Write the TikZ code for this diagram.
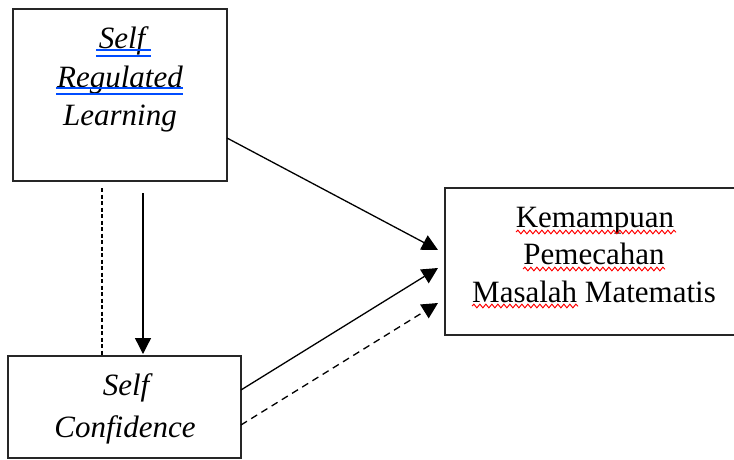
\documentclass[tikz,border=0pt]{standalone}
\usepackage{fontspec}
\setmainfont{Liberation Serif}
\usetikzlibrary{arrows.meta,calc,decorations.pathmorphing}
\begin{document}
\begin{tikzpicture}[x=1pt,y=-1pt,
 box/.style={draw=black!85,line width=1.4pt,inner sep=0pt,outer sep=0pt},
 lbl/.style={anchor=base,inner sep=0pt,font=\fontsize{31}{37}\selectfont},
 ilbl/.style={anchor=base,inner sep=0pt,font=\fontsize{31}{37}\selectfont\itshape},
 conn/.style={line width=1.3pt,-{Triangle[length=16pt,width=16pt]}},
 dconn/.style={conn,dash pattern=on 7pt off 5pt},
 dline/.style={line width=1.2pt,dash pattern=on 4pt off 2.5pt},
 blueul/.style={draw=blue!70!cyan,line width=1.2pt},
 redul/.style={draw=red,line width=1pt,decorate,decoration={snake,amplitude=1.8pt,segment length=6pt}}]
\useasboundingbox (0,0) rectangle (734,459);
\clip (0,0) rectangle (734,459);
\fill[white] (0,0) rectangle (734,459);
% boxes
\node[box,minimum width=214pt,minimum height=172pt] (srl) at (120,95) {};
\node[box,minimum width=233pt,minimum height=102pt] (sc) at (124.5,407) {};
\node[box,minimum width=300pt,minimum height=147pt] (kpm) at (595,261.5) {};
% texts
\node[ilbl] (srl1) at (122,48) {Self};
\node[ilbl] (srl2) at (120,87) {Regulated};
\node[ilbl] (srl3) at (120,125) {Learning};
\node[ilbl] (sc1) at (126,395) {Self};
\node[ilbl] (sc2) at (125,437) {Confidence};
\node[lbl] (k1) at (595,227) {Kemampuan};
\node[lbl] (k2) at (594,264) {Pemecahan};
\node[lbl] (k3) at (594,302) {Masalah Matematis};
% proofing underlines
\draw[blueul] (96,50) -- (151,50) (96,56) -- (151,56);
\draw[blueul] (56,88) -- (183,88) (56,94) -- (183,94);
\draw[redul] (516,232) -- (676,232);
\draw[redul] (523,269) -- (665,269);
\draw[redul] (472,306) -- (578,306);
% connector helpers
\coordinate (xa) at (143,0);
\coordinate (xb) at (102,0);
\coordinate (e1) at (438,250);
\coordinate (e2) at (438,268);
\coordinate (e3) at (438,303);
% connectors
\draw[conn,shorten <=12pt,shorten >=2pt] (srl.south -| xa) -- (sc.north -| xa);
\draw[dline,shorten <=7pt] (srl.south -| xb) -- (sc.north -| xb);
\draw[conn] ($(srl.south east)!0.25!(srl.north east)$) -- (e1);
\draw[conn] ($(sc.south east)!0.667!(sc.north east)$) -- (e2);
\draw[dconn] ($(sc.south east)!0.324!(sc.north east)$) -- (e3);
\end{tikzpicture}
\end{document}
